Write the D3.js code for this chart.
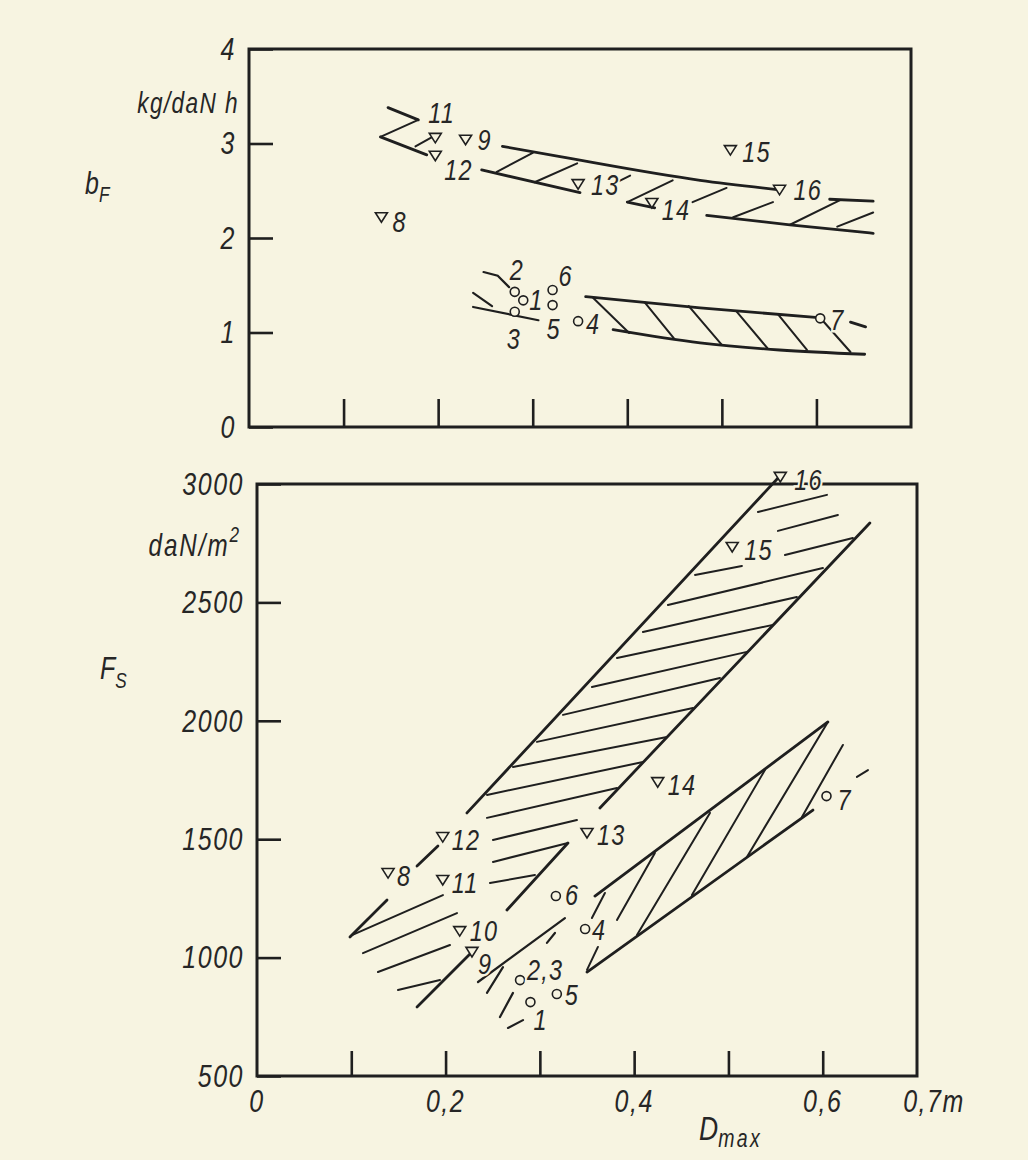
<!DOCTYPE html>
<html><head><meta charset="utf-8">
<script src="https://cdn.jsdelivr.net/npm/d3@7"></script>
<style>
html,body{margin:0;padding:0;background:#f7f4e1;}
svg{display:block;}
text{font-family:"Liberation Sans","Arial",sans-serif;font-style:italic;font-weight:normal;fill:#262626;}
</style></head><body>
<svg id="chart" width="1028" height="1160"></svg>
<script>
// ---------------- DATA ----------------
// Upper panel: b_F (kg/daN h) vs D_max (m)
const topYTicks = [0, 1, 2, 3, 4];
const topXTicks = [0.1, 0.2, 0.3, 0.4, 0.5, 0.6];
const topTriangles = [
  {id:"8", D:0.140, v:2.22}, {id:"9", D:0.229, v:3.04}, {id:"11", D:0.197, v:3.06},
  {id:"12", D:0.197, v:2.87}, {id:"13", D:0.348, v:2.57}, {id:"14", D:0.426, v:2.37},
  {id:"15", D:0.509, v:2.93}, {id:"16", D:0.561, v:2.51}
];
const topCircles = [
  {id:"1", D:0.290, v:1.34}, {id:"2", D:0.281, v:1.43}, {id:"3", D:0.281, v:1.22},
  {id:"4", D:0.348, v:1.12}, {id:"5", D:0.321, v:1.29}, {id:"6", D:0.321, v:1.45},
  {id:"7", D:0.604, v:1.15}
];
// upper hatched band (triangles)
const topBandUpper = [
  [[0.147,3.38],[0.179,3.25]],
  [[0.268,2.97],[0.329,2.86],[0.477,2.61],[0.561,2.51]],
  [[0.614,2.41],[0.660,2.39]]
];
const topBandLower = [
  [[0.139,3.07],[0.188,2.88]],
  [[0.246,2.72],[0.350,2.48]],
  [[0.400,2.38],[0.429,2.32]],
  [[0.484,2.24],[0.572,2.14],[0.660,2.05]]
];
const topBandHatch = [
  [[0.139,3.07],[0.179,3.25]],
  [[0.176,2.97],[0.194,3.07]],
  [[0.262,2.70],[0.300,2.90]],
  [[0.302,2.59],[0.347,2.79]],
  [[0.387,2.58],[0.403,2.66]],
  [[0.400,2.38],[0.448,2.61]],
  [[0.469,2.38],[0.505,2.53]],
  [[0.512,2.22],[0.554,2.38]],
  [[0.572,2.14],[0.625,2.40]],
  [[0.622,2.12],[0.660,2.27]]
];
// lower hatched band (circles)
const topLowUpper = [
  [[0.356,1.38],[0.477,1.26],[0.599,1.16]],
  [[0.636,1.11],[0.652,1.06]]
];
const topLowLower = [
  [[0.385,1.03],[0.477,0.89],[0.561,0.815],[0.651,0.77]]
];
const topLowHatch = [
  [[0.364,1.365],[0.402,0.995]],
  [[0.418,1.323],[0.450,0.931]],
  [[0.465,1.28],[0.500,0.868]],
  [[0.515,1.228],[0.548,0.836]],
  [[0.559,1.196],[0.590,0.815]],
  [[0.607,1.122],[0.636,0.794]]
];
const topSmallBand = [
  [[0.248,1.64],[0.263,1.60],[0.275,1.48]],
  [[0.237,1.42],[0.257,1.28]],
  [[0.237,1.27],[0.306,1.13]]
];

// Lower panel: F_S (daN/m^2) vs D_max (m)
const botYTicks = [500, 1000, 1500, 2000, 2500, 3000];
const botXTicks = [0.1, 0.2, 0.3, 0.4, 0.5, 0.6];
const botXLabels = [[0, "0"], [0.2, "0,2"], [0.4, "0,4"], [0.6, "0,6"], [0.7, "0,7m"]];
const botTriangles = [
  {id:"8", D:0.139, v:1357}, {id:"9", D:0.228, v:1024}, {id:"10", D:0.215, v:1112},
  {id:"11", D:0.197, v:1328}, {id:"12", D:0.197, v:1509}, {id:"13", D:0.350, v:1526},
  {id:"14", D:0.425, v:1741}, {id:"15", D:0.504, v:2734}, {id:"16", D:0.555, v:3030}
];
const botCircles = [
  {id:"1", D:0.290, v:812}, {id:"2,3", D:0.279, v:905}, {id:"4", D:0.348, v:1121},
  {id:"5", D:0.318, v:846}, {id:"6", D:0.317, v:1260}, {id:"7", D:0.604, v:1682}
];
const botBandLeft = [
  [[0.0986,1087],[0.1379,1243]],
  [[0.1697,1387],[0.1919,1471]],
  [[0.2227,1611],[0.5546,3034]]
];
const botBandRight = [
  [[0.1697,791],[0.228,1024]],
  [[0.2651,1201],[0.3298,1484]],
  [[0.3637,1632],[0.650,2835]]
];
const botBandHatch = [
  [[0.5313,2882],[0.6045,2954]],
  [[0.5525,2802],[0.6161,2869]],
  [[0.5599,2700],[0.6320,2772]],
  [[0.4645,2616],[0.5143,2654]],
  [[0.4358,2489],[0.6002,2645]],
  [[0.4093,2375],[0.5726,2523]],
  [[0.3818,2265],[0.5472,2405]],
  [[0.3552,2143],[0.5196,2291]],
  [[0.3245,2025],[0.4910,2181]],
  [[0.2969,1911],[0.4624,2054]],
  [[0.2715,1805],[0.4348,1932]],
  [[0.2439,1687],[0.4093,1826]],
  [[0.2439,1590],[0.3818,1716]],
  [[0.2503,1497],[0.3393,1581]],
  [[0.2503,1404],[0.3298,1484]],
  [[0.2471,1315],[0.2948,1349]],
  [[0.1007,1095],[0.1972,1264]],
  [[0.1124,1019],[0.2121,1188]],
  [[0.1283,939],[0.2047,1053]],
  [[0.1495,863],[0.1941,905]]
];
const botLowUpper = [[[0.3584,1260],[0.6055,1995]]];
const botLowLower = [[[0.350,939],[0.5896,1623]]];
const botLowHatch = [
  [[0.6055,1995],[0.5196,1425]],
  [[0.5387,1792],[0.4613,1264]],
  [[0.4804,1611],[0.4030,1095]],
  [[0.4220,1442],[0.3818,1159]],
  [[0.3690,1273],[0.3552,1167]],
  [[0.3616,1045],[0.3500,948]],
  [[0.6214,1898],[0.5780,1594]],
  [[0.6363,1763],[0.6480,1792]]
];
const botSmallBand = [
  [[0.2344,897],[0.3266,1167]],
  [[0.2439,851],[0.2609,960]],
  [[0.2577,749],[0.2715,851]],
  [[0.2662,703],[0.2821,736]],
  [[0.3075,1062],[0.3160,1104]]
];

// ---------------- LAYOUT ----------------
const BG = "#f7f4e1", INK = "#1f1f1f", SX = 0.78;
const svg = d3.select("#chart");
svg.append("rect").attr("width",1028).attr("height",1160).attr("fill",BG);

const xTop = d3.scaleLinear().domain([0,0.7]).range([249,911]);
const yTop = d3.scaleLinear().domain([0,4]).range([427,49]);
const xBot = d3.scaleLinear().domain([0,0.7]).range([257,917]);
const yBot = d3.scaleLinear().domain([500,3000]).range([1076,484]);

// label offsets (px, relative to marker; dx, baseline dy)
const topLabelOff = {"8":[11,15],"9":[12,10],"11":[-7,-15],"12":[9,24],"13":[13,11],"14":[10,17],
  "15":[12,12],"16":[14,10],"1":[6,10],"2":[-5,-12],"3":[-8,37],"4":[8,13],"5":[-6,34],"6":[6,-4],"7":[10,12]};
const botLabelOff = {"16":[14,13],"15":[12,13],"14":[10,13],"13":[10,12],"12":[9,13],"8":[9,13],
  "11":[9,13],"10":[10,10],"9":[6,22],"6":[9,9],"4":[7,11],"2,3":[7,0],"5":[8,11],"1":[3,28],"7":[11,14]};

function panel(xs, ys, yTicks, xTicks, yTickLen, xTickLen){
  const g = svg.append("g");
  g.append("rect").attr("x",xs(0)).attr("y",ys.range()[1])
    .attr("width",xs(0.7)-xs(0)).attr("height",ys.range()[0]-ys.range()[1])
    .attr("fill","none").attr("stroke",INK).attr("stroke-width",3);
  const ay = g.append("g").attr("transform",`translate(${xs(0)},0)`)
    .call(d3.axisLeft(ys).tickValues(yTicks).tickSize(-yTickLen).tickPadding(13).tickFormat(d=>String(d)));
  ay.select(".domain").remove();
  ay.selectAll("line").attr("stroke",INK).attr("stroke-width",2.6);
  ay.selectAll("text").attr("font-size",32).attr("letter-spacing",2).attr("fill","#262626")
    .attr("font-family",null);
  const ax = g.append("g").attr("transform",`translate(0,${ys.range()[0]})`)
    .call(d3.axisBottom(xs).tickValues(xTicks).tickSize(-xTickLen).tickFormat(""));
  ax.select(".domain").remove();
  ax.selectAll("line").attr("stroke",INK).attr("stroke-width",2.6);
  return g;
}

const gTop = panel(xTop, yTop, topYTicks, topXTicks, 24, 28);
const gBot = panel(xBot, yBot, botYTicks, botXTicks, 24, 25);

function drawSegs(g, segs, xs, ys, w, smooth){
  const line = d3.line().x(d=>xs(d[0])).y(d=>ys(d[1])).curve(smooth ? d3.curveMonotoneX : d3.curveLinear);
  g.selectAll(null).data(segs).enter().append("path")
    .attr("d", line).attr("fill","none").attr("stroke",INK)
    .attr("stroke-width",w).attr("stroke-linecap","round");
}

drawSegs(gTop, topBandUpper, xTop, yTop, 2.8, true);
drawSegs(gTop, topBandLower, xTop, yTop, 2.8, true);
drawSegs(gTop, topBandHatch, xTop, yTop, 2.0, false);
drawSegs(gTop, topLowUpper, xTop, yTop, 2.8, true);
drawSegs(gTop, topLowLower, xTop, yTop, 2.8, true);
drawSegs(gTop, topLowHatch, xTop, yTop, 2.0, false);
drawSegs(gTop, topSmallBand, xTop, yTop, 2.2, false);
drawSegs(gBot, botBandLeft, xBot, yBot, 2.8, false);
drawSegs(gBot, botBandRight, xBot, yBot, 2.8, false);
drawSegs(gBot, botBandHatch, xBot, yBot, 2.0, false);
drawSegs(gBot, botLowUpper, xBot, yBot, 2.8, false);
drawSegs(gBot, botLowLower, xBot, yBot, 2.8, false);
drawSegs(gBot, botLowHatch, xBot, yBot, 2.0, false);
drawSegs(gBot, botSmallBand, xBot, yBot, 2.2, false);

function markers(g, tri, circ, xs, ys, off){
  g.selectAll(null).data(tri).enter().append("path")
    .attr("transform", d=>`translate(${xs(d.D)},${ys(d.v)})`)
    .attr("d","M-6,-4.5L6,-4.5L0,5Z")
    .attr("fill",BG).attr("stroke",INK).attr("stroke-width",1.6);
  g.selectAll(null).data(circ).enter().append("circle")
    .attr("cx", d=>xs(d.D)).attr("cy", d=>ys(d.v)).attr("r",4.5)
    .attr("fill",BG).attr("stroke",INK).attr("stroke-width",1.6);
  g.selectAll(null).data(tri.concat(circ)).enter().append("text")
    .attr("x", d=>xs(d.D)+off[d.id][0]).attr("y", d=>ys(d.v)+off[d.id][1])
    .attr("font-size",30).attr("letter-spacing",1.5)
    .attr("stroke",BG).attr("stroke-width",5).attr("paint-order","stroke")
    .text(d=>d.id);
}
markers(gTop, topTriangles, topCircles, xTop, yTop, topLabelOff);
markers(gBot, botTriangles, botCircles, xBot, yBot, botLabelOff);

gBot.selectAll(null).data(botXLabels).enter().append("text")
  .attr("x", d=>xBot(d[0]) + (d[0]===0.7 ? 17 : 0))
  .attr("y", 1112).attr("text-anchor","middle")
  .attr("font-size",32).attr("letter-spacing",2)
  .text(d=>d[1]);

const t1 = svg.append("text").attr("x",239).attr("y",113).attr("text-anchor","end")
  .attr("font-size",29).attr("letter-spacing",1.8).text("kg/daN h");
const t2 = svg.append("text").attr("x",85).attr("y",194).attr("font-size",32);
t2.append("tspan").text("b");
t2.append("tspan").attr("font-size",22).attr("dy",8).text("F");
const t3 = svg.append("text").attr("x",241).attr("y",556).attr("text-anchor","end")
  .attr("font-size",31).attr("letter-spacing",2.5);
t3.append("tspan").text("daN/m");
t3.append("tspan").attr("font-size",22).attr("dy",-14).text("2");
const t4 = svg.append("text").attr("x",100).attr("y",679).attr("font-size",32);
t4.append("tspan").text("F");
t4.append("tspan").attr("font-size",22).attr("dy",9).text("S");
const t5 = svg.append("text").attr("x",699).attr("y",1140).attr("font-size",34);
t5.append("tspan").text("D");
t5.append("tspan").attr("font-size",25).attr("dy",7).attr("letter-spacing",3).text("max");

// condensed lettering like the original drawing: compress every text horizontally
svg.selectAll("text").each(function(){
  const t = d3.select(this);
  const x = +t.attr("x") || 0;
  t.attr("x", x / SX).attr("transform", `scale(${SX},1)`);
});
</script></body></html>
